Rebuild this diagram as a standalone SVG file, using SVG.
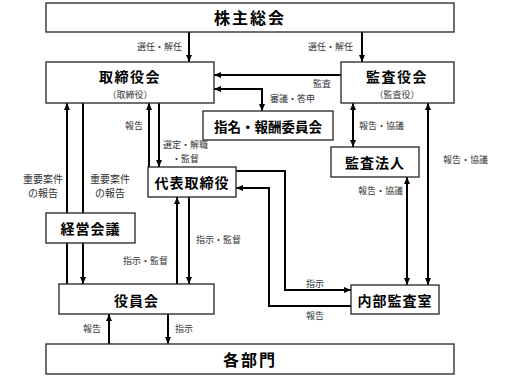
<svg xmlns="http://www.w3.org/2000/svg" width="507" height="379" viewBox="0 0 507 379">
<style>
.box{fill:#fff;stroke:#333;stroke-width:1.4}
.ln{fill:none;stroke:#000;stroke-width:2}
.t{font-family:"Noto Sans CJK JP","Noto Sans",sans-serif;font-weight:bold;fill:#000;text-anchor:middle}
.s{font-family:"Noto Sans CJK JP","Noto Sans",sans-serif;font-size:9px;fill:#333}
.m{font-family:"Noto Sans CJK JP","Noto Sans",sans-serif;font-size:10px;fill:#333;text-anchor:middle}
.sub{font-family:"Noto Sans CJK JP","Noto Sans",sans-serif;font-size:9px;fill:#333;text-anchor:middle}
</style>
<defs>
<marker id="a" markerUnits="userSpaceOnUse" markerWidth="8" markerHeight="8" refX="7" refY="3" orient="auto-start-reverse" viewBox="0 0 8 6">
<path d="M0,0 L7,3 L0,6 z" fill="#000"/>
</marker>
</defs>
<g id="connectors">
<path class="ln" d="M189,32 V62" marker-end="url(#a)"/>
<path class="ln" d="M362,32 V62" marker-end="url(#a)"/>
<path class="ln" d="M341,75 H214" marker-end="url(#a)"/>
<path class="ln" d="M262,111 V89 H214" marker-start="url(#a)" marker-end="url(#a)"/>
<path class="ln" d="M149,167 V103" marker-end="url(#a)"/>
<path class="ln" d="M159,103 V167" marker-end="url(#a)"/>
<path class="ln" d="M67,284 V103" marker-end="url(#a)"/>
<path class="ln" d="M83,103 V284" marker-end="url(#a)"/>
<path class="ln" d="M177,284 V197" marker-end="url(#a)"/>
<path class="ln" d="M189,197 V284" marker-end="url(#a)"/>
<path class="ln" d="M236,171 H285 V290 H351" marker-end="url(#a)"/>
<path class="ln" d="M351,306 H269 V188 H236" marker-end="url(#a)"/>
<path class="ln" d="M353,103 V147" marker-start="url(#a)" marker-end="url(#a)"/>
<path class="ln" d="M428,103 V285" marker-start="url(#a)" marker-end="url(#a)"/>
<path class="ln" d="M407,177 V285" marker-start="url(#a)" marker-end="url(#a)"/>
<path class="ln" d="M109,344 V314" marker-end="url(#a)"/>
<path class="ln" d="M168,314 V344" marker-end="url(#a)"/>
</g>
<g id="labels">
<text class="s" x="137" y="50">選任・解任</text>
<text class="s" x="308" y="50">選任・解任</text>
<text class="s" x="313" y="87">監査</text>
<text class="s" x="270" y="102">審議・答申</text>
<text class="s" x="125" y="129">報告</text>
<text class="s" x="163" y="148">選定・解職</text>
<text class="s" x="172" y="162">・監督</text>
<text class="m" x="43" y="183">重要案件</text>
<text class="m" x="43" y="197">の報告</text>
<text class="m" x="110" y="183">重要案件</text>
<text class="m" x="110" y="197">の報告</text>
<text class="s" x="196" y="243">指示・監督</text>
<text class="s" x="123" y="264">指示・監督</text>
<text class="s" x="359" y="129">報告・協議</text>
<text class="s" x="443" y="163">報告・協議</text>
<text class="s" x="358" y="194">報告・協議</text>
<text class="s" x="306" y="287">指示</text>
<text class="s" x="306" y="319">報告</text>
<text class="s" x="83" y="332">報告</text>
<text class="s" x="175" y="332">指示</text>
</g>
<g id="kabunushi"><rect class="box" x="46" y="3" width="408" height="29"/><text class="t" x="250" y="24" font-size="16" letter-spacing="2">株主総会</text></g>
<g id="torishimariyakukai"><rect class="box" x="46" y="62" width="168" height="41"/><text class="t" x="130" y="82" font-size="14" letter-spacing="1.5">取締役会</text><text class="sub" x="130" y="98">（取締役）</text></g>
<g id="kansayakukai"><rect class="box" x="341" y="62" width="113" height="41"/><text class="t" x="397" y="82" font-size="14" letter-spacing="1.5">監査役会</text><text class="sub" x="397" y="98">（監査役）</text></g>
<g id="iinkai"><rect class="box" x="203" y="111" width="130" height="29"/><text class="t" x="268" y="132" font-size="13.5">指名・報酬委員会</text></g>
<g id="kansahojin"><rect class="box" x="331" y="147" width="88" height="30"/><text class="t" x="375" y="168" font-size="14" letter-spacing="1">監査法人</text></g>
<g id="daihyo"><rect class="box" x="148" y="167" width="88" height="30"/><text class="t" x="192" y="188" font-size="14" letter-spacing="1">代表取締役</text></g>
<g id="keieikaigi"><rect class="box" x="46" y="213" width="89" height="30"/><text class="t" x="90.5" y="234" font-size="14" letter-spacing="1">経営会議</text></g>
<g id="yakuinkai"><rect class="box" x="59" y="284" width="155" height="30"/><text class="t" x="136.5" y="306" font-size="14" letter-spacing="1">役員会</text></g>
<g id="naibukansa"><rect class="box" x="351" y="285" width="88" height="29"/><text class="t" x="395" y="306" font-size="14" letter-spacing="1">内部監査室</text></g>
<g id="kakubumon"><rect class="box" x="46" y="344" width="408" height="30"/><text class="t" x="250" y="366" font-size="16" letter-spacing="2">各部門</text></g>
</svg>
